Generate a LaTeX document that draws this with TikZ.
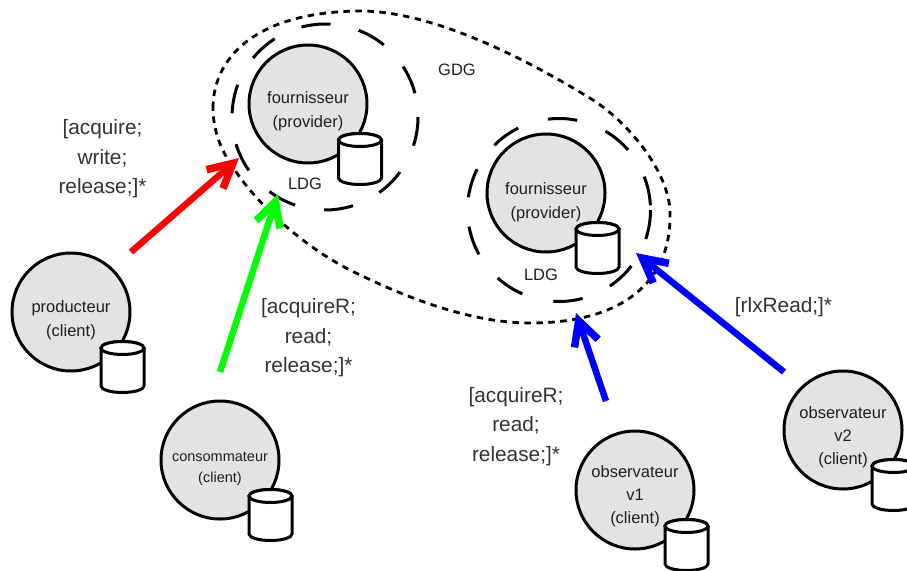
\documentclass[tikz,border=0pt]{standalone}
\usepackage{fontspec}
\setmainfont{Liberation Sans}
\usetikzlibrary{arrows.meta}
\tikzset{
  x=1pt,y=-1pt,
  agent/.style={circle,draw=black,fill=black!11,line width=3pt,minimum size=118pt,inner sep=0pt},
  txt/.style={align=center,text=black!88,inner sep=0pt,font=\fontsize{16.5}{24}\selectfont},
  threetxt/.style={txt,font=\fontsize{16.5}{23.2}\selectfont},
  smalltxt/.style={txt,font=\fontsize{14.5}{21}\selectfont},
  lbl/.style={align=center,text=black!80,inner sep=0pt,font=\fontsize{20.8}{29.5}\selectfont},
  ldgarc/.style={line width=3pt,draw=black},
  gdgline/.style={line width=2.8pt,draw=black,dash pattern=on 6.5pt off 5.5pt},
  flow/.style={line width=6.5pt,-{Straight Barb[length=24pt,width=25pt,line width=7.5pt]}},
  db/.pic={
    \path[draw=black,fill=white,line width=3pt,line join=round]
      (-21.5,0) -- (-21.5,38) arc[start angle=180,end angle=0,x radius=21.5,y radius=6.5] -- (21.5,0)
      arc[start angle=0,end angle=-180,x radius=21.5,y radius=6.5] -- cycle;
    \path[draw=black,fill=white,line width=3pt] (0,0) ellipse[x radius=21.5,y radius=6.5];
  }
}
\begin{document}
\begin{tikzpicture}
\useasboundingbox (0,0) rectangle (907,570);
\clip (0,0) rectangle (907,570);
% global dotted boundary
\draw[gdgline] (213,108)
  .. controls (213,62) and (250,12) .. (360,11)
  .. controls (430,11) and (520,55) .. (593,100)
  .. controls (630,124) and (672,175) .. (670,217)
  .. controls (670,280) and (625,323) .. (530,323)
  .. controls (480,323) and (420,305) .. (350,270)
  .. controls (305,247) and (255,205) .. (227,158)
  .. controls (218,143) and (213,125) .. cycle;
% LDG dashed circles
\foreach \a in {0,-36.3,-72.5,-108.7,-145,-182.3,-219.3,-255.4,-291.2,-327.2}
  \draw[ldgarc] (325,117) ++({cos(\a)*93},{-sin(\a)*93})
     arc[start angle=-\a,delta angle=18,radius=93];
\foreach \a in {0,-37.7,-75,-113.6,-151,-188,-225,-263,-300.5,-338.6}
  \draw[ldgarc] (559,210) ++({cos(\a)*91.5},{-sin(\a)*91.5})
     arc[start angle=-\a,delta angle=18.5,radius=91.5];
% agents
\node[agent] (p1) at (308,104) {};
\node[agent] (p2) at (546,193) {};
\node[agent] (prod) at (71,312) {};
\node[agent] (cons) at (220,460) {};
\node[agent] (v1) at (635,490) {};
\node[agent] (v2) at (843,430) {};
% cylinders
\pic at (360,140) {db};
\pic at (597.5,229) {db};
\pic at (122.5,348) {db};
\pic at (270.5,496) {db};
\pic at (686.5,526) {db};
\pic at (893.5,466) {db};
% text
\node[txt] (tp1) at (308,111) {fournisseur\\(provider)};
\node[txt] (tp2) at (546,202) {fournisseur\\(provider)};
\node[txt] (tprod) at (71,320) {producteur\\(client)};
\node[smalltxt] (tcons) at (220,469) {consommateur\\(client)};
\node[threetxt] (tv1) at (635,496) {observateur\\v1\\(client)};
\node[threetxt] (tv2) at (843,437.5) {observateur\\v2\\(client)};
\node[txt] (ldg1) at (305,184) {LDG};
\node[txt] (ldg2) at (541,274.5) {LDG};
\node[txt] (gdg) at (457,70) {GDG};
\node[lbl] (l1) at (102.5,159) {[acquire;\\write;\\release;]*};
\node[lbl] (l2) at (308.5,338) {[acquireR;\\read;\\release;]*};
\node[lbl] (l3) at (516,426.5) {[acquireR;\\read;\\release;]*};
\node[lbl] (l4) at (783.5,307) {[rlxRead;]*};
% arrow ends
\coordinate (r0) at (131,252); \coordinate (r1) at (239,158);
\coordinate (g0) at (220,372); \coordinate (g1) at (278,194);
\coordinate (b0) at (606,401); \coordinate (b1) at (576,313);
\coordinate (c0) at (784,372); \coordinate (c1) at (636,253);
\draw[flow,red] (r0) -- (r1);
\draw[flow,green] (g0) -- (g1);
\draw[flow,blue] (b0) -- (b1);
\draw[flow,blue] (c0) -- (c1);
\end{tikzpicture}
\end{document}
